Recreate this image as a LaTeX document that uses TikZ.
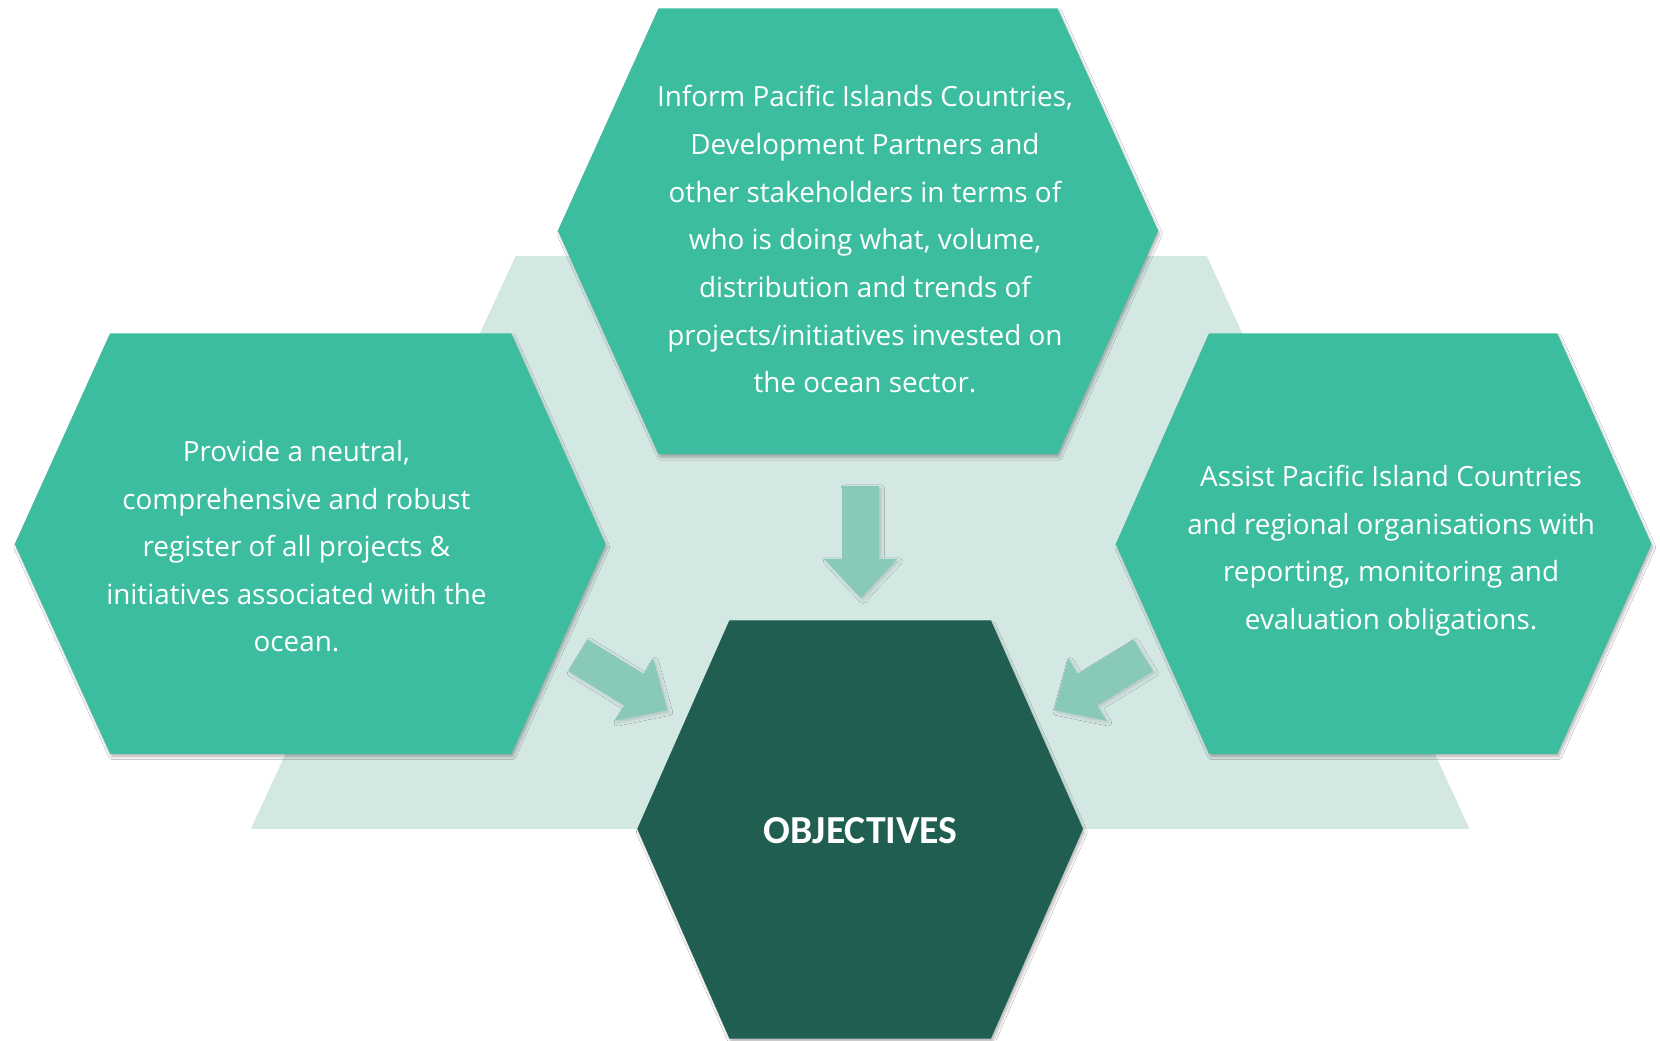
\documentclass[tikz,border=0pt]{standalone}
\usepackage{fontspec}
\setmainfont{Open Sans}
\newfontfamily\objfont{Carlito}
\usetikzlibrary{shadows.blur}
\definecolor{hexteal}{RGB}{61,189,160}
\definecolor{hexdark}{RGB}{31,94,80}
\definecolor{bgpale}{RGB}{212,232,227}
\definecolor{arrowteal}{RGB}{137,201,186}
\tikzset{
  hexshape/.style={fill=#1, blur shadow={shadow xshift=1.5pt, shadow yshift=-3pt, shadow opacity=28, shadow blur steps=6, shadow blur radius=2.5pt}},
  arrowshape/.style={fill=arrowteal, blur shadow={shadow xshift=2pt, shadow yshift=-2pt, shadow opacity=15, shadow blur steps=5, shadow blur radius=3pt}},
  bodytext/.style={text=white, align=center, font=\fontsize{26.3}{45}\selectfont, inner sep=0pt},
  titletext/.style={text=white, align=center, font=\objfont\bfseries\fontsize{37.5}{40}\selectfont, inner sep=0pt},
}
% #1 tail centre, #2 direction, #3 total length
\newcommand\blockarrowat[3]{%
  \begin{scope}[shift={#1}, rotate=#2]
    \path[arrowshape] (0,-17.5) -- (#3-37,-17.5) -- (#3-37,-34.5) -- (#3,0) -- (#3-37,34.5) -- (#3-37,17.5) -- (0,17.5) -- cycle;
  \end{scope}}
\begin{document}
\begin{tikzpicture}[x=1pt,y=-1pt]
\useasboundingbox (0,0) rectangle (1568,983);
\fill[white] (0,0) rectangle (1568,983);
% pale background trapezoid
\fill[bgpale] (237,783) -- (487,242) -- (1140,242) -- (1388,783) -- cycle;
% arrows
\blockarrowat{(813,459)}{-90}{106}
\blockarrowat{(546,619)}{-31.5}{99}
\blockarrowat{(1080,619)}{-148.5}{99}
% hexagons
\path[hexshape=hexteal] (622,8) -- (999,8) -- (1094,218) -- (999,429) -- (622,429) -- (527,218) -- cycle;
\path[hexshape=hexteal] (104,315) -- (483,315) -- (572,514) -- (483,712) -- (104,712) -- (14,514) -- cycle;
\path[hexshape=hexteal] (1142,315) -- (1471,315) -- (1560,514) -- (1471,712) -- (1142,712) -- (1054,514) -- cycle;
\path[hexshape=hexdark] (689,586) -- (936,586) -- (1023,783) -- (936,981) -- (689,981) -- (602,783) -- cycle;
% texts
\node[bodytext] (inform) at (817,226) {Inform Pacific Islands Countries,\\Development Partners and\\other stakeholders in terms of\\who is doing what, volume,\\distribution and trends of\\projects/initiatives invested on\\the ocean sector.};
\node[bodytext] (provide) at (280,516) {Provide a neutral,\\comprehensive and robust\\register of all projects \&\\initiatives associated with the\\ocean.};
\node[bodytext] (assist) at (1314,520) {Assist Pacific Island Countries\\and regional organisations with\\reporting, monitoring and\\evaluation obligations.};
\node[titletext] (obj) at (813,785) {OBJECTIVES};
\end{tikzpicture}
\end{document}
